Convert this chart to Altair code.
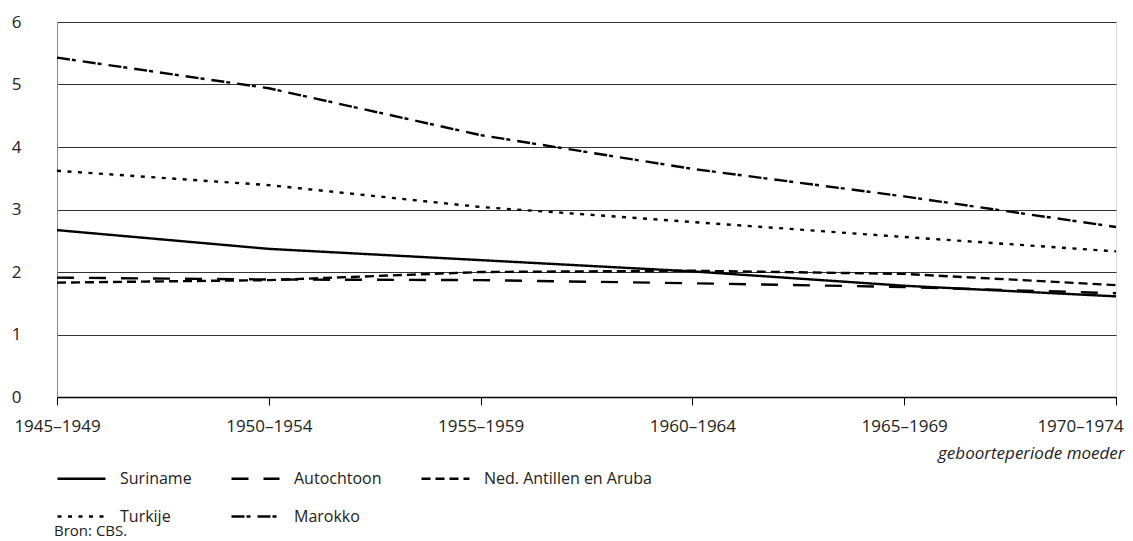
import altair as alt
import pandas as pd

periods = ["1945–1949", "1950–1954", "1955–1959", "1960–1964", "1965–1969", "1970–1974"]
series_names = ["Suriname", "Autochtoon", "Ned. Antillen en Aruba", "Turkije", "Marokko"]

suriname = [2.67, 2.37, 2.19, 2.01, 1.78, 1.61]
autochtoon = [1.91, 1.88, 1.87, 1.82, 1.76, 1.66]
antillen = [1.83, 1.87, 2.00, 2.02, 1.97, 1.79]
turkije = [3.62, 3.39, 3.04, 2.80, 2.56, 2.33]
marokko = [5.43, 4.94, 4.19, 3.65, 3.21, 2.72]

y_ticks = [0, 1, 2, 3, 4, 5, 6]
dashes = [[1, 0], [17, 15], [9, 5], [4, 6.5], [13, 2, 4, 7]]

rows = []
for name, vals in zip(series_names, [suriname, autochtoon, antillen, turkije, marokko]):
    for p, v in zip(periods, vals):
        rows.append({"periode": p, "groep": name, "waarde": v})
df = pd.DataFrame(rows)

FONT = "Open Sans"
TXT = "#222222"
FS = 17
LFS = 16

chart = (
    alt.Chart(df, title=alt.Title("Bron: CBS.", orient="bottom", anchor="start", frame="group",
                                  fontSize=15, fontWeight="normal", color=TXT, font=FONT, dx=-3, offset=-1))
    .mark_line(color="black", strokeWidth=2.4, strokeCap="butt")
    .encode(
        x=alt.X(
            "periode:N",
            sort=periods,
            scale=alt.Scale(type="point", padding=0),
            axis=alt.Axis(
                title="geboorteperiode moeder",
                titleFontStyle="italic",
                titleFontWeight="normal",
                titleFontSize=FS,
                titleFont=FONT,
                titleColor=TXT,
                titleAlign="right",
                titleAnchor="end",
                titleBaseline="alphabetic",
                titleX=1067,
                titleY=61,
                labelAngle=0,
                labelFontSize=FS,
                labelFont=FONT,
                labelColor=TXT,
                labelPadding=13,
                labelOffset={"condition": {"test": "datum.value == '1970–1974'", "value": -36}, "value": 0},
                tickSize=8,
                tickColor="black",
                tickWidth=1,
                domainColor="black",
                domainWidth=1.5,
                grid=False,
            ),
        ),
        y=alt.Y(
            "waarde:Q",
            scale=alt.Scale(domain=[0, 6], nice=False, zero=True),
            axis=alt.Axis(
                title=None,
                values=y_ticks,
                ticks=False,
                labelFontSize=FS,
                labelFont=FONT,
                labelColor=TXT,
                labelPadding=36,
                labelAlign="right",
                domainColor="#888888",
                domainWidth=1,
                grid=True,
                gridColor="#333333",
                gridWidth=1,
            ),
        ),
        strokeDash=alt.StrokeDash(
            "groep:N",
            sort=series_names,
            scale=alt.Scale(domain=series_names, range=dashes),
            legend=alt.Legend(
                title=None,
                orient="none",
                legendX=-1,
                legendY=431,
                direction="horizontal",
                columns=3,
                columnPadding=34,
                rowPadding=4,
                padding=0,
                symbolType="stroke",
                symbolSize=2304,
                symbolStrokeWidth=2.4,
                symbolStrokeColor="black",
                labelFontSize=LFS,
                labelFont=FONT,
                labelColor=TXT,
                labelOffset=13,
                labelLimit=400,
            ),
        ),
    )
    .properties(
        width=1059,
        height=375,
        autosize=alt.AutoSizeParams(type="none"),
        padding={"left": 49, "top": 14, "right": 9, "bottom": 144},
    )
    .configure_view(stroke="#888888", strokeWidth=1)
    .configure(background="white")
)

chart.save("out.html", embed_options={"renderer": "svg", "actions": False})
